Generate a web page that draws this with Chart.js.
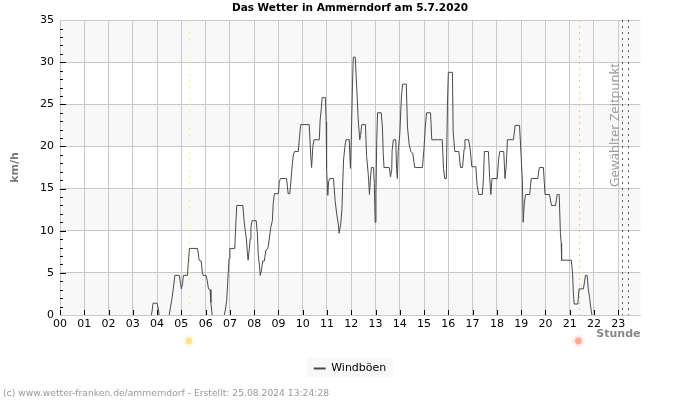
<!DOCTYPE html>
<html><head><meta charset="utf-8">
<style>html,body{margin:0;padding:0;background:#fff}canvas{display:block}</style>
<script src="https://cdn.jsdelivr.net/npm/chart.js@4"></script></head>
<body><canvas id="c" width="700" height="400" style="width:700px;height:400px"></canvas>
<script>
const chartTitle = "Das Wetter in Ammerndorf am 5.7.2020";
const seriesName = "Windböen";
const yTitle = "km/h";
const xTitle = "Stunde";
const markerText = "Gewählter Zeitpunkt";
const footerText = "(c) www.wetter-franken.de/ammerndorf - Erstellt: 25.08.2024 13:24:28";
const sunriseMinute = 320, sunsetMinute = 1284;
const selectedMinutes = [1390, 1405];
const gustMinutes = [
0,226,228,230,240,243,245,270,272,276,280,284,295,298,300,303,305,315,317,320,
340,344,349,352,354,361,364,367,371,373,376,406,409,412,415,418,420,432,435,437,
452,455,458,461,463,465,468,470,472,475,485,488,490,493,495,498,501,505,509,514,
517,521,525,527,530,540,542,545,560,564,568,571,574,577,580,589,592,595,616,620,
622,625,628,641,643,646,648,656,658,659,662,664,667,676,680,684,688,690,694,697,
699,701,704,707,715,718,720,723,725,730,733,735,737,741,743,746,755,758,762,765,
768,770,775,777,779,781,783,785,794,797,799,801,814,817,820,821,824,830,832,834,
836,840,844,847,856,859,863,867,872,877,896,900,903,906,916,919,945,948,951,955,
958,960,970,972,976,986,990,995,999,1001,1010,1014,1018,1028,1031,1035,1044,1047,1049,1059,
1062,1065,1068,1081,1084,1087,1097,1100,1103,1106,1121,1125,1136,1140,1143,1145,1148,1151,1161,1165,
1181,1185,1195,1199,1210,1215,1225,1229,1234,1237,1239,1240,1264,1267,1269,1271,1280,1283,1294,1299,
1303,1306,1309,1312,1315,1435];
const gustKmh = [
0,0,0.6,1.4,1.4,0.7,0,0,0.6,1.7,3.1,4.7,4.7,3.7,3.1,3.7,4.7,4.7,6.1,7.9,
7.9,6.5,6.4,5,4.7,4.7,4.1,3.1,3,1.5,0,0,0.7,1.7,4.3,6.7,7.9,7.9,11.2,13,
13,11.2,10,8.9,7.5,6.5,7.9,9,10.4,11.2,11.2,9.6,7.2,5.9,4.7,5.3,6.4,6.4,7.7,7.9,
8.9,10.4,11.2,13.2,14.4,14.4,15.8,16.2,16.2,14.4,14.4,16,17.8,19,19.4,19.4,21.1,22.6,22.6,18.8,
17.5,20,20.8,20.8,23.1,24.5,25.8,25.8,22.9,17.4,14.2,15.8,16.2,16.2,13.6,12,10.8,9.7,10.8,12.6,
15.8,18.4,19.9,20.8,20.8,17.4,20.7,27.3,30.6,30.6,27.4,25.5,23.3,20.8,21.3,22.6,22.6,18.8,16.7,14.3,
16.6,17.5,17.5,15.6,11,14.4,20.7,24,24,22.3,19.2,17.5,17.5,16.4,17.2,19.5,20.8,20.8,17.4,16.2,
19.4,21.5,26,27.4,27.4,22.3,20.3,19.4,19.2,17.5,17.5,19.9,22.3,24,24,20.8,20.8,17.4,16.2,16.2,
25.5,28.8,28.8,21.7,19.4,19.4,17.5,17.5,19.7,20.8,20.8,19.7,17.6,17.6,15.4,14.3,14.3,16.4,19.4,19.4,
16.4,14.3,16.2,16.2,18.4,19.4,19.4,16.2,17.6,20.8,20.8,22.5,22.5,18.8,15.8,11,13.4,14.3,14.3,16.2,
16.2,17.5,17.5,14.3,14.3,13,13,14.3,14.3,9.7,8.5,6.5,6.5,5,2.7,1.3,1.3,3.1,3.1,4.7,
4.7,3.1,2.1,0.9,0,0];
const hourTicks = [0,1,2,3,4,5,6,7,8,9,10,11,12,13,14,15,16,17,18,19,20,21,22,23];
const yBands = [[0,5],[10,15],[20,25],[30,35]];

function sun(ctx,x,y,core,ray){
  ctx.save();ctx.strokeStyle=ray;ctx.lineWidth=1;
  for(let i=0;i<12;i++){const a=i*Math.PI/6;ctx.beginPath();ctx.moveTo(x+Math.cos(a)*3.5,y+Math.sin(a)*3.5);ctx.lineTo(x+Math.cos(a)*6.5,y+Math.sin(a)*6.5);ctx.stroke();}
  ctx.fillStyle=core;ctx.beginPath();ctx.arc(x,y,3.4,0,2*Math.PI);ctx.fill();ctx.restore();
}
const decor = {
  id:'decor',
  beforeDraw(chart){
    const {ctx,chartArea:a,scales:{y}}=chart;
    ctx.save();
    ctx.fillStyle='#f8f8f8';
    yBands.forEach(b=>{const t=y.getPixelForValue(b[1]),u=y.getPixelForValue(b[0]);ctx.fillRect(a.left,t,a.right-a.left,u-t);});
    ctx.fillRect(307,358,86,19);
    ctx.restore();
  },
  beforeDatasetsDraw(chart){
    const {ctx,chartArea:a,scales:{x,y}}=chart;
    ctx.save();
    const vline=(m,col)=>{const p=Math.round(x.getPixelForValue(m))+0.5;ctx.strokeStyle=col;ctx.lineWidth=1;ctx.setLineDash([2,4]);ctx.beginPath();ctx.moveTo(p,a.top);ctx.lineTo(p,a.bottom);ctx.stroke();};
    vline(sunriseMinute,'#f6ee9a');vline(sunsetMinute,'#f6c27a');
    selectedMinutes.forEach(m=>vline(m,'#555555'));
    ctx.setLineDash([]);
    ctx.strokeStyle='#000';ctx.lineWidth=1;
    hourTicks.forEach(h=>{const p=Math.round(x.getPixelForValue(h*60))+0.5;ctx.beginPath();ctx.moveTo(p,a.bottom-5);ctx.lineTo(p,a.bottom);ctx.stroke();});
    for(let v=1;v<35;v++){const p=Math.round(y.getPixelForValue(v))+0.5;const l=v%5===0?6:3;ctx.beginPath();ctx.moveTo(a.left,p);ctx.lineTo(a.left+l,p);ctx.stroke();}
    ctx.translate(619,187);ctx.rotate(-Math.PI/2);
    ctx.fillStyle='#999999';ctx.font='13px "Open Sans"';ctx.textAlign='left';ctx.textBaseline='alphabetic';
    ctx.fillText(markerText,0,0);
    ctx.restore();
  },
  afterDraw(chart){
    const {ctx,scales:{x}}=chart;
    sun(ctx,x.getPixelForValue(sunriseMinute)-0.5,341,'#fde28e','#fdeec0');
    sun(ctx,x.getPixelForValue(sunsetMinute)-1,341,'#ffaa92','#ffd2c4');
    ctx.save();ctx.fillStyle='#999999';ctx.font='9.2px "DejaVu Sans"';ctx.textAlign='left';ctx.textBaseline='alphabetic';
    ctx.fillText(footerText,3,396);ctx.restore();
  }
};
new Chart(document.getElementById('c'),{
  type:'line',
  data:{datasets:[{label:seriesName,data:gustMinutes.map((m,i)=>({x:m,y:gustKmh[i]})),
    borderColor:'#4a4a4a',backgroundColor:'#4a4a4a',borderWidth:1,pointRadius:0,tension:0,fill:false,yAxisID:'y',
    segment:{borderColor:c=>(c.p0.parsed.y===0&&c.p1.parsed.y===0)?'rgba(0,0,0,0)':undefined}}]},
  options:{
    responsive:false,animation:false,devicePixelRatio:1,
    layout:{padding:{left:0,right:0,top:0,bottom:16}},
    font:{family:'"DejaVu Sans"'},
    plugins:{
      title:{display:true,text:chartTitle,color:'#000',font:{family:'"DejaVu Sans"',size:10.5,weight:'bold'},padding:{top:2,bottom:5.5}},
      legend:{position:'bottom',labels:{usePointStyle:true,pointStyle:'line',pointStyleWidth:12,color:'#000',font:{family:'"DejaVu Sans"',size:11},padding:4,boxHeight:11,
        generateLabels(chart){const l=Chart.defaults.plugins.legend.labels.generateLabels(chart);l.forEach(i=>{i.lineWidth=2;});return l;}}},
      tooltip:{enabled:false}
    },
    scales:{
      x:{type:'linear',min:0,max:1435,
        afterFit(s){s.height=44;},
        grid:{color:'#c8c8c8',lineWidth:1,drawTicks:false},border:{color:'#c8c8c8'},
        title:{display:true,text:xTitle,align:'end',color:'#888888',font:{family:'"DejaVu Sans"',size:11,weight:'bold'},padding:{top:0,bottom:18}},
        ticks:{stepSize:60,includeBounds:false,autoSkip:false,maxRotation:0,color:'#000',padding:3,font:{family:'"DejaVu Sans"',size:11},callback:v=>String(v/60).padStart(2,'0')}},
      y:{min:0,max:35,
        afterFit(s){s.width=60;},
        grid:{color:'#c8c8c8',lineWidth:1,drawTicks:false},border:{color:'#c8c8c8'},
        title:{display:true,text:yTitle,color:'#777777',font:{family:'"DejaVu Sans"',size:11,weight:'bold'},padding:{top:9,bottom:0}},
        ticks:{stepSize:5,color:'#000',padding:6,font:{family:'"DejaVu Sans"',size:11}}},
      spare:{position:'right',min:0,max:35,
        afterFit(s){s.width=59.5;},
        grid:{display:false},border:{display:false},ticks:{display:false}}
    }
  },
  plugins:[decor]
});
</script></body></html>
